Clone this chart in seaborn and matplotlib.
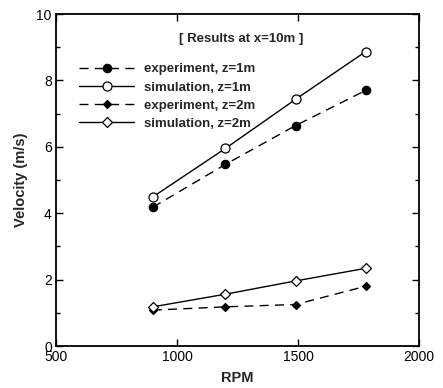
import matplotlib
matplotlib.use("Agg")
import matplotlib.pyplot as plt
import seaborn as sns
import pandas as pd
from matplotlib.ticker import MultipleLocator

rpm = [900, 1200, 1490, 1780]
exp_z1 = [4.18, 5.47, 6.64, 7.70]
sim_z1 = [4.49, 5.95, 7.43, 8.87]
exp_z2 = [1.08, 1.18, 1.25, 1.80]
sim_z2 = [1.18, 1.56, 1.96, 2.34]
labels = ["experiment, z=1m", "simulation, z=1m", "experiment, z=2m", "simulation, z=2m"]

sns.set_style("ticks")
plt.rcParams['font.family'] = ['Liberation Sans', 'DejaVu Sans']

fig = plt.figure(figsize=(4.43, 3.88), dpi=100)
ax = fig.add_axes([56/443, 42/388, 363/443, 332/388])

series = [
    (exp_z1, labels[0], (0, (6.5, 4.5)), 'o', 'black', 6),
    (sim_z1, labels[1], '-', 'o', 'white', 6.5),
    (exp_z2, labels[2], (0, (6.5, 4.5)), 'D', 'black', 4.5),
    (sim_z2, labels[3], '-', 'D', 'white', 5),
]
for vals, lab, ls, mk, fc, ms in series:
    df = pd.DataFrame({"RPM": rpm, "V": vals})
    sns.lineplot(data=df, x="RPM", y="V", ax=ax, color='black', linewidth=1.0,
                 linestyle=ls, marker=mk, markerfacecolor=fc, markeredgecolor='black',
                 markeredgewidth=0.9, markersize=ms, label=lab)

ax.set_xlim(500, 2000)
ax.set_ylim(0, 10)
ax.xaxis.set_major_locator(MultipleLocator(500))
ax.yaxis.set_major_locator(MultipleLocator(2))
ax.yaxis.set_minor_locator(MultipleLocator(1))
ax.tick_params(which='both', direction='in', top=True, right=True, labelsize=10,
               width=1.0, pad=3, colors='black')
ax.tick_params(which='major', length=5)
ax.tick_params(which='minor', length=3)
for s in ax.spines.values():
    s.set_linewidth(1.3)
    s.set_color('black')

ax.set_xlabel("RPM", fontsize=10.5, fontweight='bold', labelpad=5)
ax.set_ylabel("Velocity (m/s)", fontsize=10.5, fontweight='bold', labelpad=6)

ax.text(0.51, 0.925, "[ Results at x=10m ]", transform=ax.transAxes, ha='center',
        va='center', fontsize=9.5, fontweight='bold')

leg = ax.legend(loc='upper left', bbox_to_anchor=(0.045, 0.872), frameon=False,
                borderpad=0, handlelength=4.2, handletextpad=0.7, labelspacing=0.45,
                prop={'weight': 'bold', 'size': 9.5})

fig.savefig("out.png", dpi=100)
